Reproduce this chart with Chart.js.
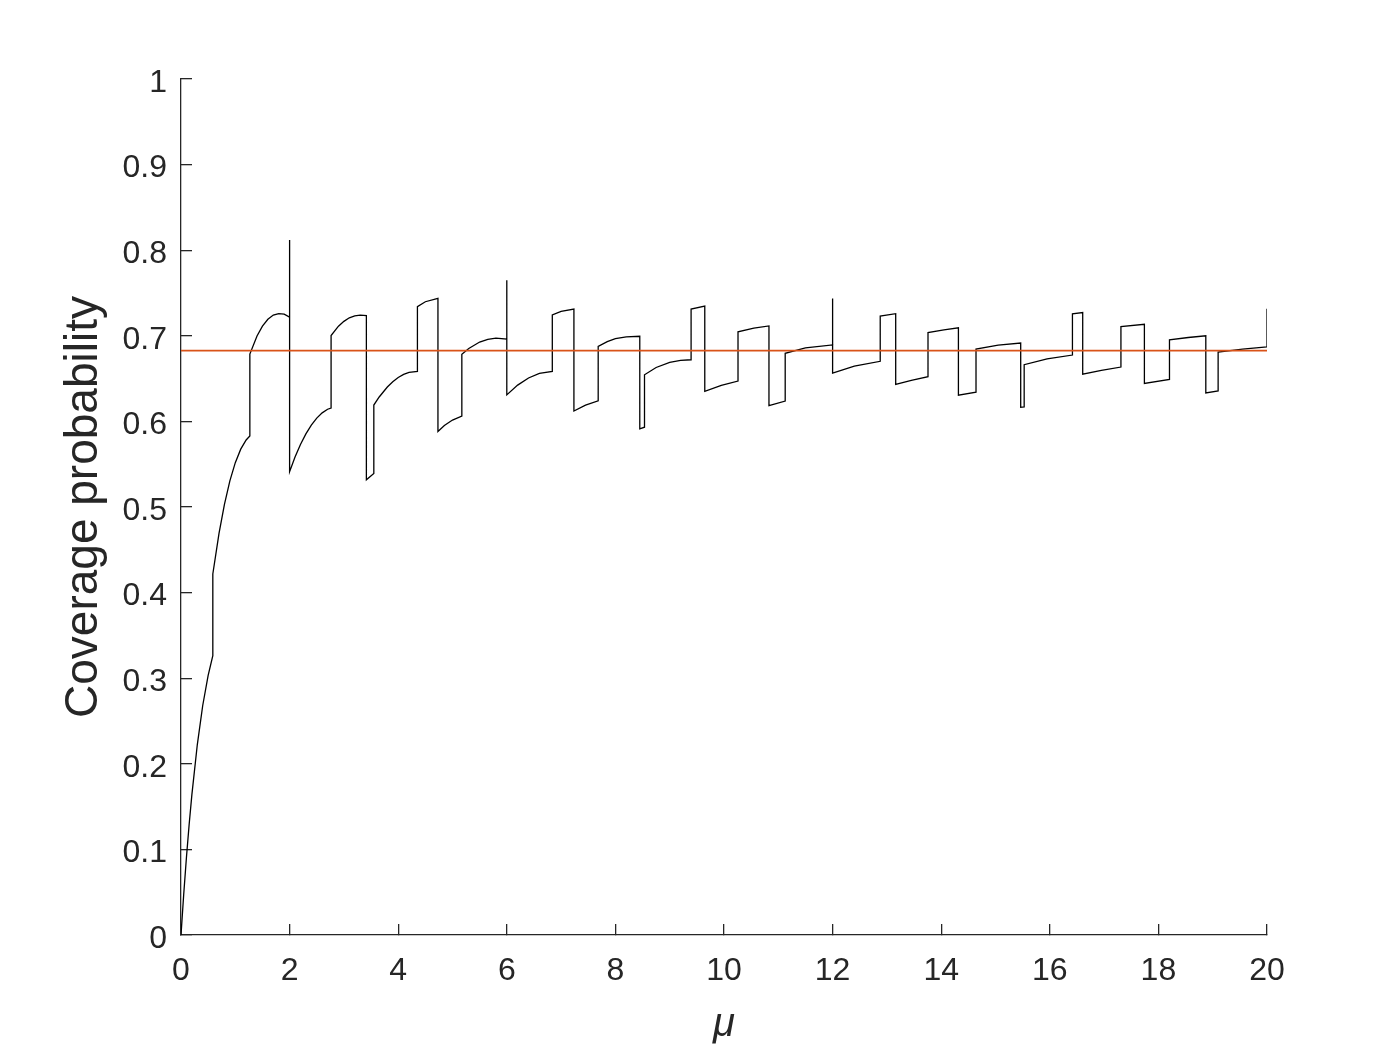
<!DOCTYPE html>
<html>
<head>
<meta charset="utf-8">
<script src="https://cdn.jsdelivr.net/npm/chart.js@4.4.1/dist/chart.umd.min.js"></script>
<style>
html, body { margin: 0; padding: 0; background: #ffffff; }
</style>
</head>
<body>
<canvas id="coverageChart" width="1400" height="1050"></canvas>
<script>
// mu values (repeated x = vertical jump)
const muValues = [
    0, 0.05, 0.1, 0.15, 0.2, 0.3, 0.4, 0.5, 0.586,
    0.586, 0.7, 0.8, 0.9, 1.0, 1.1, 1.2, 1.268,
    1.268, 1.4, 1.5, 1.6, 1.7, 1.8, 1.9, 2.0,
    2.0, 2.0, 2.1, 2.2, 2.3, 2.4, 2.5, 2.6, 2.7, 2.764,
    2.764, 2.9, 3.0, 3.1, 3.2, 3.3, 3.414,
    3.414, 3.551,
    3.551, 3.65, 3.8, 3.9, 4.0, 4.1, 4.2, 4.354,
    4.354, 4.5, 4.732,
    4.732, 4.85, 5.0, 5.172,
    5.172, 5.3, 5.5, 5.65, 5.8, 6.0,
    6.0, 6.0, 6.2, 6.4, 6.6, 6.838,
    6.838, 7.0, 7.236,
    7.236, 7.45, 7.683,
    7.683, 7.85, 8.0, 8.2, 8.449,
    8.449, 8.536,
    8.536, 8.75, 9.0, 9.2, 9.394,
    9.394, 9.646,
    9.646, 9.95, 10.258,
    10.258, 10.55, 10.828,
    10.828, 11.127,
    11.127, 11.5, 12.0,
    12.0, 12.0, 12.4, 12.877,
    12.877, 13.162,
    13.162, 13.45, 13.757,
    13.757, 14.05, 14.317,
    14.317, 14.641,
    14.641, 15.05, 15.464,
    15.464, 15.528,
    15.528, 15.95, 16.417,
    16.417, 16.606,
    16.606, 16.95, 17.31,
    17.31, 17.742,
    17.742, 18.204,
    18.204, 18.55, 18.873,
    18.873, 19.1,
    19.1, 19.55, 20.0,
    20.0
];

// coverage probability at each mu
const coverageValues = [
    0, 0.0476, 0.0905, 0.1291, 0.1637, 0.2222, 0.2681, 0.3033, 0.3262,
    0.4217, 0.4693, 0.5032, 0.5306, 0.5518, 0.5676, 0.5783, 0.5830,
    0.6786, 0.6997, 0.7112, 0.7193, 0.7242, 0.7260, 0.7253, 0.7218,
    0.8120, 0.5413, 0.5583, 0.5730, 0.5854, 0.5956, 0.6039, 0.6100, 0.6142, 0.6156,
    0.7003, 0.7112, 0.7169, 0.7210, 0.7234, 0.7242, 0.7235,
    0.5317, 0.5392,
    0.6191, 0.6285, 0.6402, 0.6464, 0.6513, 0.6549, 0.6573, 0.6585,
    0.7341, 0.7398, 0.7438,
    0.5883, 0.5953, 0.6016, 0.6063,
    0.6783, 0.6852, 0.6927, 0.6959, 0.6972, 0.6961,
    0.7649, 0.6310, 0.6424, 0.6507, 0.6560, 0.6584,
    0.7245, 0.7285, 0.7312,
    0.6122, 0.6190, 0.6240,
    0.6875, 0.6932, 0.6968, 0.6988, 0.6995,
    0.5913, 0.5932,
    0.6545, 0.6630, 0.6690, 0.6712, 0.6720,
    0.7312, 0.7348,
    0.6351, 0.6420, 0.6471,
    0.7046, 0.7090, 0.7115,
    0.6185, 0.6238,
    0.6796, 0.6860, 0.6894,
    0.7437, 0.6563, 0.6645, 0.6702,
    0.7231, 0.7258,
    0.6432, 0.6480, 0.6522,
    0.7038, 0.7070, 0.7093,
    0.6307, 0.6341,
    0.6845, 0.6890, 0.6915,
    0.6164, 0.6170,
    0.6663, 0.6730, 0.6775,
    0.7257, 0.7272,
    0.6552, 0.6595, 0.6635,
    0.7107, 0.7135,
    0.6443, 0.6490,
    0.6953, 0.6980, 0.7000,
    0.6332, 0.6355,
    0.6809, 0.6845, 0.6870,
    0.7316
];

// nominal level (horizontal red line)
const nominalMu = [0, 20];
const nominalCoverage = [0.6827, 0.6827];

// ticks
const xTickValues = [0, 2, 4, 6, 8, 10, 12, 14, 16, 18, 20];
const xTickLabels = ['0', '2', '4', '6', '8', '10', '12', '14', '16', '18', '20'];
const yTickValues = [0, 0.1, 0.2, 0.3, 0.4, 0.5, 0.6, 0.7, 0.8, 0.9, 1];
const yTickLabels = ['0', '0.1', '0.2', '0.3', '0.4', '0.5', '0.6', '0.7', '0.8', '0.9', '1'];

const axisColor = '#262626';
const fontFamily = "'Liberation Sans', Arial, Helvetica, sans-serif";

var coveragePoints = muValues.map((m, i) => ({x: m, y: coverageValues[i]}));
var nominalPoints = nominalMu.map((m, i) => ({x: m, y: nominalCoverage[i]}));

const ctx = document.getElementById('coverageChart').getContext('2d');

const coverage_chart = new Chart(ctx, {
    type: 'scatter',
    data: {
        datasets: [{
            label: 'Nominal',
            data: nominalPoints,
            showLine: true,
            borderColor: '#D95319',
            borderWidth: 1.8,
            pointRadius: 0,
            order: 0
        }, {
            label: 'Coverage',
            data: coveragePoints,
            showLine: true,
            borderColor: '#000000',
            borderWidth: 1.3,
            pointRadius: 0,
            tension: 0,
            order: 1
        }]
    },
    options: {
        responsive: false,
        animation: false,
        layout: {
            padding: {left: 0, right: 133, top: 79, bottom: 0}
        },
        plugins: {
            legend: {display: false},
            tooltip: {enabled: false}
        },
        scales: {
            x: {
                type: 'linear',
                min: 0,
                max: 20,
                afterBuildTicks: scale => {
                    scale.ticks = xTickValues.map(v => ({value: v}));
                },
                afterFit: scale => {
                    scale.height = 115;
                },
                border: {display: true, color: axisColor, width: 1.3},
                grid: {
                    display: true,
                    drawOnChartArea: false,
                    drawTicks: true,
                    tickLength: -11,
                    color: axisColor,
                    lineWidth: 1.3
                },
                ticks: {
                    color: axisColor,
                    font: {family: fontFamily, size: 32, lineHeight: 1.2},
                    padding: 28,
                    maxRotation: 0,
                    autoSkip: false,
                    callback: (value, index) => xTickLabels[index]
                },
                title: {
                    display: true,
                    text: 'μ',
                    color: axisColor,
                    font: {family: fontFamily, size: 40, style: 'italic', lineHeight: 1.2},
                    padding: {top: 0, bottom: 1}
                }
            },
            y: {
                type: 'linear',
                min: 0,
                max: 1,
                afterBuildTicks: scale => {
                    scale.ticks = yTickValues.map(v => ({value: v}));
                },
                afterFit: scale => {
                    scale.width = 181;
                },
                border: {display: true, color: axisColor, width: 1.3},
                grid: {
                    display: true,
                    drawOnChartArea: false,
                    drawTicks: true,
                    tickLength: -11,
                    color: axisColor,
                    lineWidth: 1.3
                },
                ticks: {
                    color: axisColor,
                    font: {family: fontFamily, size: 32, lineHeight: 1.2},
                    padding: 25,
                    labelOffset: 4,
                    autoSkip: false,
                    callback: (value, index) => yTickLabels[index]
                },
                title: {
                    display: true,
                    text: 'Coverage probability',
                    color: axisColor,
                    font: {family: fontFamily, size: 46, lineHeight: 1.2},
                    padding: {top: 57, bottom: 0}
                }
            }
        }
    }
});
</script>
</body>
</html>
